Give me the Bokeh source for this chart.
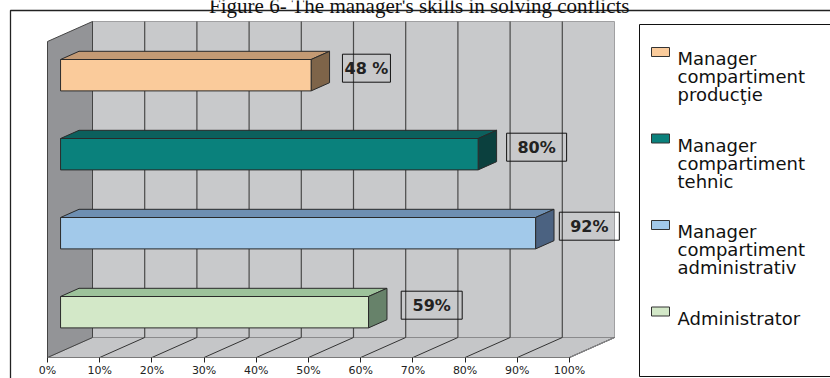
from bokeh.plotting import figure
from bokeh.models import Range1d, LinearAxis, FixedTicker
from bokeh.embed import file_html
from bokeh.resources import INLINE
from bokeh.core.properties import value

# ---------------- data ----------------
title_text = "Figure 6- The manager's skills in solving conflicts"
categories = ["Manager compartiment producţie", "Manager compartiment tehnic",
              "Manager compartiment administrativ", "Administrator"]
legend_labels = ["Manager\ncompartiment\nproducţie", "Manager\ncompartiment\ntehnic",
                 "Manager\ncompartiment\nadministrativ", "Administrator"]
values = [48, 80, 91, 59]
value_labels = ["48 %", "80%", "92%", "59%"]
tick_values = [0, 10, 20, 30, 40, 50, 60, 70, 80, 90, 100]
tick_labels = ["0%", "10%", "20%", "30%", "40%", "50%", "60%", "70%", "80%", "90%", "100%"]

# ---------------- style ----------------
front_colors = ["#FACB9B", "#0A817C", "#A2C9EA", "#D3E8C8"]
top_colors = ["#C49A74", "#0C605D", "#6E8FB2", "#9DC29B"]
side_colors = ["#7E6449", "#0B403E", "#4B6281", "#67826A"]
label_offsets = [13.1, 13.7, 12.8, 14.6]     # label box distance from bar end (in %)
label_box_w = [48, 60, 60, 61]

W, H = 830, 378
X0, Y0 = 47, 357          # pixel position of 0 % on the front floor edge
S = 5.22                  # pixels per percent
DX = 45 / S               # depth offset (x, in % units)
DY = 20                   # depth offset (y, in px units)
BAND = 79
NCAT = len(categories)
WALL_H = NCAT * BAND
T0, T1 = 0.29, 0.70
HALF = 15.7


def px(x):
    return (x - X0) / S


def py(y):
    return Y0 - y


p = figure(width=W, height=H, x_range=Range1d(-X0 / S, (W - X0) / S),
           y_range=Range1d(Y0 - H, Y0), output_backend="svg", toolbar_location=None,
           min_border=0, x_axis_location=None, y_axis_location=None,
           outline_line_color=None, background_fill_color="white")
p.grid.visible = False

# walls and floor
p.quad(left=DX, right=100 + DX, bottom=DY, top=DY + WALL_H,
       fill_color="#C8C9CB", line_color="#A0A0A2", line_width=1)
p.patch([0, 100, 100 + DX, DX], [0, 0, DY, DY], fill_color="#C5C6C8",
        line_color="#8A8A8C", line_width=1)
p.patch([0, DX, DX, 0], [0, DY, DY + WALL_H, WALL_H], fill_color="#939497",
        line_color="#444444", line_width=1)

grid_x = [v + DX for v in tick_values[1:-1]]
p.segment(x0=grid_x, y0=[DY] * len(grid_x), x1=grid_x, y1=[DY + WALL_H] * len(grid_x),
          line_color="#4A4A4A", line_width=1.2)
p.segment(x0=tick_values[1:], y0=[0] * 10, x1=[v + DX for v in tick_values[1:]],
          y1=[DY] * 10, line_color="#333333", line_width=1)
p.segment(x0=[100], y0=[0], x1=[100 + DX], y1=[DY], line_color="#8A8A8C", line_width=1.2)

# bars (3D)
yc = [(NCAT - 1 - i + 0.5) * BAND for i in range(NCAT)]
top_xs, top_ys, side_xs, side_ys = [], [], [], []
fl, fr, fb, ft = [], [], [], []
for v, c in zip(values, yc):
    a0x, a0y = DX * T0, DY * T0
    a1x, a1y = DX * T1, DY * T1
    yb, yt = c - HALF, c + HALF
    fl.append(a0x); fr.append(v + a0x); fb.append(yb + a0y); ft.append(yt + a0y)
    top_xs.append([a0x, v + a0x, v + a1x, a1x])
    top_ys.append([yt + a0y, yt + a0y, yt + a1y, yt + a1y])
    side_xs.append([v + a0x, v + a0x, v + a1x, v + a1x])
    side_ys.append([yb + a0y, yt + a0y, yt + a1y, yb + a1y])

p.patches(top_xs, top_ys, fill_color=top_colors, line_color="#2A2A2A", line_width=1)
p.patches(side_xs, side_ys, fill_color=side_colors, line_color="#2A2A2A", line_width=1)
p.quad(left=fl, right=fr, bottom=fb, top=ft, fill_color=front_colors,
       line_color="#2A2A2A", line_width=1)

# data labels
lx = [v + o for v, o in zip(values, label_offsets)]
ly = [c + DY * T0 + 7 for c in yc]
p.rect(x=lx, y=ly, width=label_box_w, height=28, width_units="screen",
       height_units="screen", fill_alpha=0, line_color="#111111", line_width=1)
p.text(x=lx, y=ly, text=value_labels, text_align="center", text_baseline="middle",
       text_font=value("DejaVu Sans"), text_font_style="bold", text_font_size="16px",
       text_color="#222222")

# axis
ax = LinearAxis(fixed_location=0, ticker=FixedTicker(ticks=tick_values), bounds=(0, 100),
                major_label_overrides={v: l for v, l in zip(tick_values, tick_labels)},
                major_tick_in=0, major_tick_out=5, minor_tick_in=0, minor_tick_out=0,
                axis_line_color="#7A7A7A", major_tick_line_color="#222222",
                major_label_text_font="DejaVu Sans", major_label_text_font_size="11px",
                major_label_text_color="#222222", major_label_standoff=1)
p.add_layout(ax, "below")

# legend (drawn)
p.quad(left=px(639), right=px(845), top=py(24), bottom=py(376),
       fill_color="white", line_color="#111111", line_width=1)
sw_x, sw_y, tx, ty, tt = [], [], [], [], []
for k, lab in enumerate(legend_labels):
    cy = 51.5 + 86.5 * k
    sw_x.append(px(660)); sw_y.append(py(cy))
    for j, line in enumerate(lab.split("\n")):
        tx.append(px(677)); ty.append(py(58.3 + 86.5 * k + 18 * j)); tt.append(line)
p.rect(x=sw_x, y=sw_y, width=18, height=9, width_units="screen", height_units="screen",
       fill_color=front_colors, line_color="#333333", line_width=1)
p.text(x=tx, y=ty, text=tt, text_align="left", text_baseline="alphabetic",
       text_font=value("DejaVu Sans"), text_font_size="18px", text_color="#111111")

# outer border and title
p.line([px(10), px(10), px(845)], [py(390), py(10), py(10)], line_color="#222222",
       line_width=1.3)
p.text(x=[px(419)], y=[py(5)], text=[title_text], text_align="center",
       text_baseline="alphabetic", text_font=value("Liberation Serif"),
       text_font_size="21px", text_color="#111111")

open("out.html", "w").write(file_html(p, INLINE))
